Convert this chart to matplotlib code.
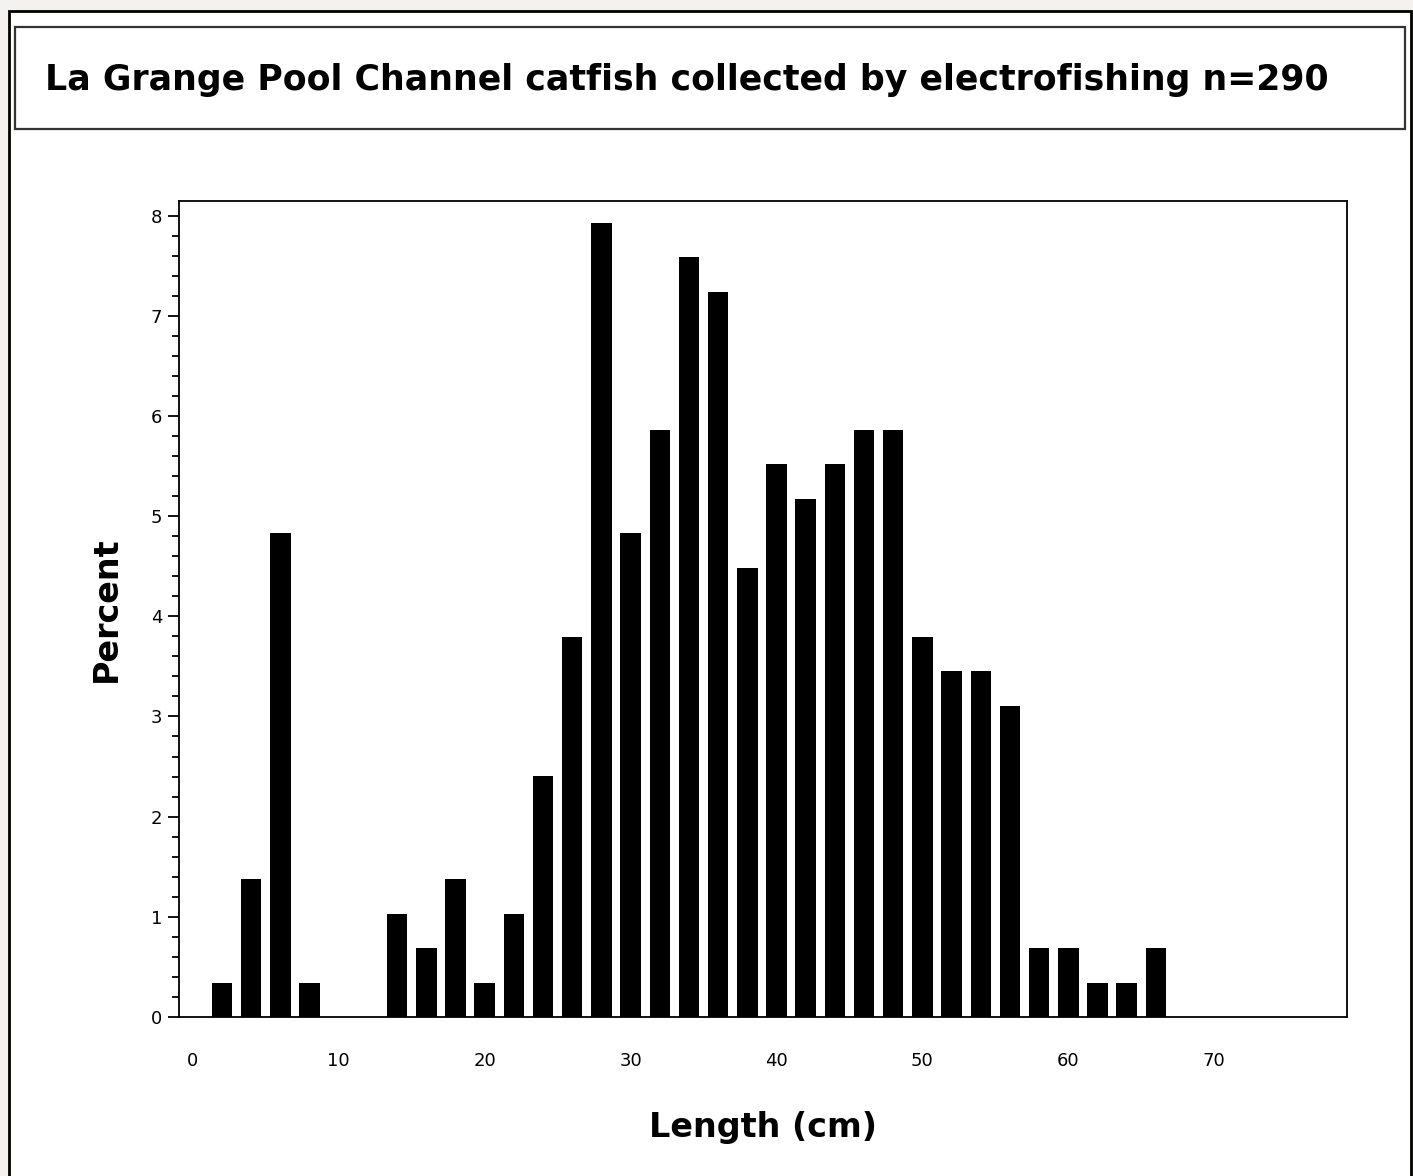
import matplotlib.pyplot as plt
from matplotlib.patches import Rectangle

# Length bins (cm) and percent of fish
lengths = [2, 4, 6, 8, 10, 12, 14, 16, 18, 20, 22, 24, 26, 28, 30, 32, 34,
           36, 38, 40, 42, 44, 46, 48, 50, 52, 54, 56, 58, 60, 62, 64, 66]
percent = [0.34, 1.38, 4.83, 0.34, 0, 0, 1.03, 0.69, 1.38, 0.34, 1.03, 2.41,
           3.79, 7.93, 4.83, 5.86, 7.59, 7.24, 4.48, 5.52, 5.17, 5.52, 5.86,
           5.86, 3.79, 3.45, 3.45, 3.10, 0.69, 0.69, 0.34, 0.34, 0.69]
x_ticks = [0, 10, 20, 30, 40, 50, 60, 70]
y_ticks = [0, 1, 2, 3, 4, 5, 6, 7, 8]

title = "La Grange Pool Channel catfish collected by electrofishing n=290"

plt.rcParams['font.family'] = ['DejaVu Sans']

W, H = 1413, 1176
fig = plt.figure(figsize=(W / 100, H / 100), dpi=100, facecolor='#f4f2ee')

# outer frame
fig.patches.append(Rectangle((9 / W, -0.01), 1402 / W, 1 - 11 / H + 0.01,
                             transform=fig.transFigure, facecolor='white',
                             edgecolor='black', linewidth=2, zorder=-5))
# title box
fig.patches.append(Rectangle((15 / W, 1 - 129 / H), 1390 / W, 102 / H,
                             transform=fig.transFigure, facecolor='none',
                             edgecolor='#333333', linewidth=1.6, zorder=1))
fig.text(45 / W, 1 - 80 / H, title, ha='left', va='center',
         fontsize=25, fontweight='bold')

ax = fig.add_axes([179 / W, 1 - 1017 / H, 1168 / W, 816.5 / H])
ax.bar(lengths, percent, width=1.4, color='black', align='center')

ax.set_xlim(-0.95, 79.1)
ax.set_ylim(0, 8.15)
ax.set_xticks(x_ticks)
ax.set_yticks(y_ticks)
ax.set_yticks([i / 5 for i in range(0, 41)], minor=True)
ax.tick_params(axis='x', length=0, pad=25, labelsize=13)
ax.tick_params(axis='y', which='major', length=8, width=1.3, pad=4, labelsize=13)
ax.tick_params(axis='y', which='minor', length=5, width=1.3)
for s in ax.spines.values():
    s.set_linewidth(1.3)

ax.set_xlabel('Length (cm)', fontsize=24, fontweight='bold', labelpad=30)
ax.set_ylabel('Percent', fontsize=24, fontweight='bold', labelpad=20)

fig.savefig('out.png', dpi=100, facecolor=fig.get_facecolor())
